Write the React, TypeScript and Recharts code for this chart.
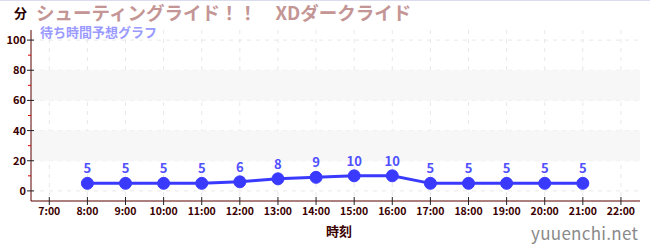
import React from 'react';
import {
  ComposedChart,
  Line,
  XAxis,
  YAxis,
  CartesianGrid,
  ReferenceArea,
  LabelList,
} from 'recharts';

const hours = [8, 9, 10, 11, 12, 13, 14, 15, 16, 17, 18, 19, 20, 21];
const waits = [5, 5, 5, 5, 6, 8, 9, 10, 10, 5, 5, 5, 5, 5];
const xTicks = [7, 8, 9, 10, 11, 12, 13, 14, 15, 16, 17, 18, 19, 20, 21, 22];
const yMajor = [0, 20, 40, 60, 80, 100];
const yMinor = [10, 30, 50, 70, 90];
const bands: [number, number][] = [[20, 40], [60, 80]];

const data = hours.map((h, i) => ({ hour: h, wait: waits[i] }));

const FONT = '"Noto Sans CJK JP", "Noto Sans", sans-serif';
const AXIS = '#5a0000';

const YTick = (props: any) => {
  const { x, y, payload } = props;
  const major = yMajor.includes(payload.value);
  const ax = x + 8; // axis line x position
  if (!major) {
    return <line x1={ax - 3} x2={ax} y1={y} y2={y} stroke="#dd0000" strokeWidth={1} />;
  }
  return (
    <g>
      <line x1={ax - 4} x2={ax + 3} y1={y} y2={y} stroke="#222" strokeWidth={1} />
      <text x={ax - 5} y={y} dy={4} textAnchor="end" fontSize={11} fontWeight="bold" fill="#3a0000" fontFamily={FONT}>
        {payload.value}
      </text>
    </g>
  );
};

const XTick = (props: any) => {
  const { x, y, payload } = props;
  return (
    <g>
      <line x1={x} x2={x} y1={y - 12} y2={y - 4} stroke="#222" strokeWidth={1} />
      <text x={x} y={y + 6} textAnchor="middle" fontSize={10.5} fontWeight="bold" fill="#3a0000" fontFamily={FONT}>
        {`${payload.value}:00`}
      </text>
    </g>
  );
};

export default function App() {
  return (
    <div style={{ position: 'absolute', left: 0, top: 0, width: 650, height: 250, background: '#fff', fontFamily: FONT, borderTop: '1px solid #dcdcf0', boxSizing: 'border-box' }}>
      <ComposedChart width={650} height={250} data={data} margin={{ top: 29, right: 10, left: 0, bottom: 0 }}>
        {bands.map(([a, b]) => (
          <ReferenceArea key={a} y1={a} y2={b} fill="#f7f7f7" fillOpacity={1} stroke="none" />
        ))}
        <CartesianGrid
          stroke="#e8e8e8"
          strokeDasharray="4 5"
          horizontalValues={yMajor}
          verticalValues={xTicks}
        />
        <XAxis
          dataKey="hour"
          type="number"
          domain={[6.52, 22.5]}
          ticks={xTicks}
          interval={0}
          height={50}
          stroke={AXIS}
          tickLine={false}
          tick={<XTick />}
          allowDataOverflow
        />
        <YAxis
          type="number"
          domain={[-6.7, 106.7]}
          ticks={[...yMajor, ...yMinor].sort((a, b) => a - b)}
          interval={0}
          width={31}
          stroke={AXIS}
          tickLine={false}
          tick={<YTick />}
          allowDataOverflow
        />
        <Line
          dataKey="wait"
          stroke="#3a3aff"
          strokeWidth={3}
          dot={{ r: 6, fill: '#3a3aff', stroke: '#3a3aff', strokeWidth: 1 }}
          isAnimationActive={false}
        >
          <LabelList dataKey="wait" position="top" offset={10} fill="#5050ff" fontSize={13} fontWeight="bold" fontFamily={FONT} />
        </Line>
      </ComposedChart>
      <div style={{ position: 'absolute', left: 14, top: 4, fontSize: 13, lineHeight: '16px', fontWeight: 'bold', color: '#2a0000' }}>分</div>
      <div style={{ position: 'absolute', left: 36, top: 0, fontSize: 18.5, lineHeight: '22px', fontWeight: 'bold', color: '#c49595', whiteSpace: 'nowrap' }}>
        シューティングライド！！　XDダークライド
      </div>
      <div style={{ position: 'absolute', left: 40, top: 23, fontSize: 13, lineHeight: '15px', fontWeight: 'bold', color: '#9a9aff', whiteSpace: 'nowrap' }}>
        待ち時間予想グラフ
      </div>
      <div style={{ position: 'absolute', left: 326, top: 220, fontSize: 13, fontWeight: 'bold', color: '#3a0000' }}>時刻</div>
      <div style={{ position: 'absolute', left: 531, top: 219, fontSize: 17, color: '#8a8a8a', letterSpacing: 0.3 }}>yuuenchi.net</div>
    </div>
  );
}
